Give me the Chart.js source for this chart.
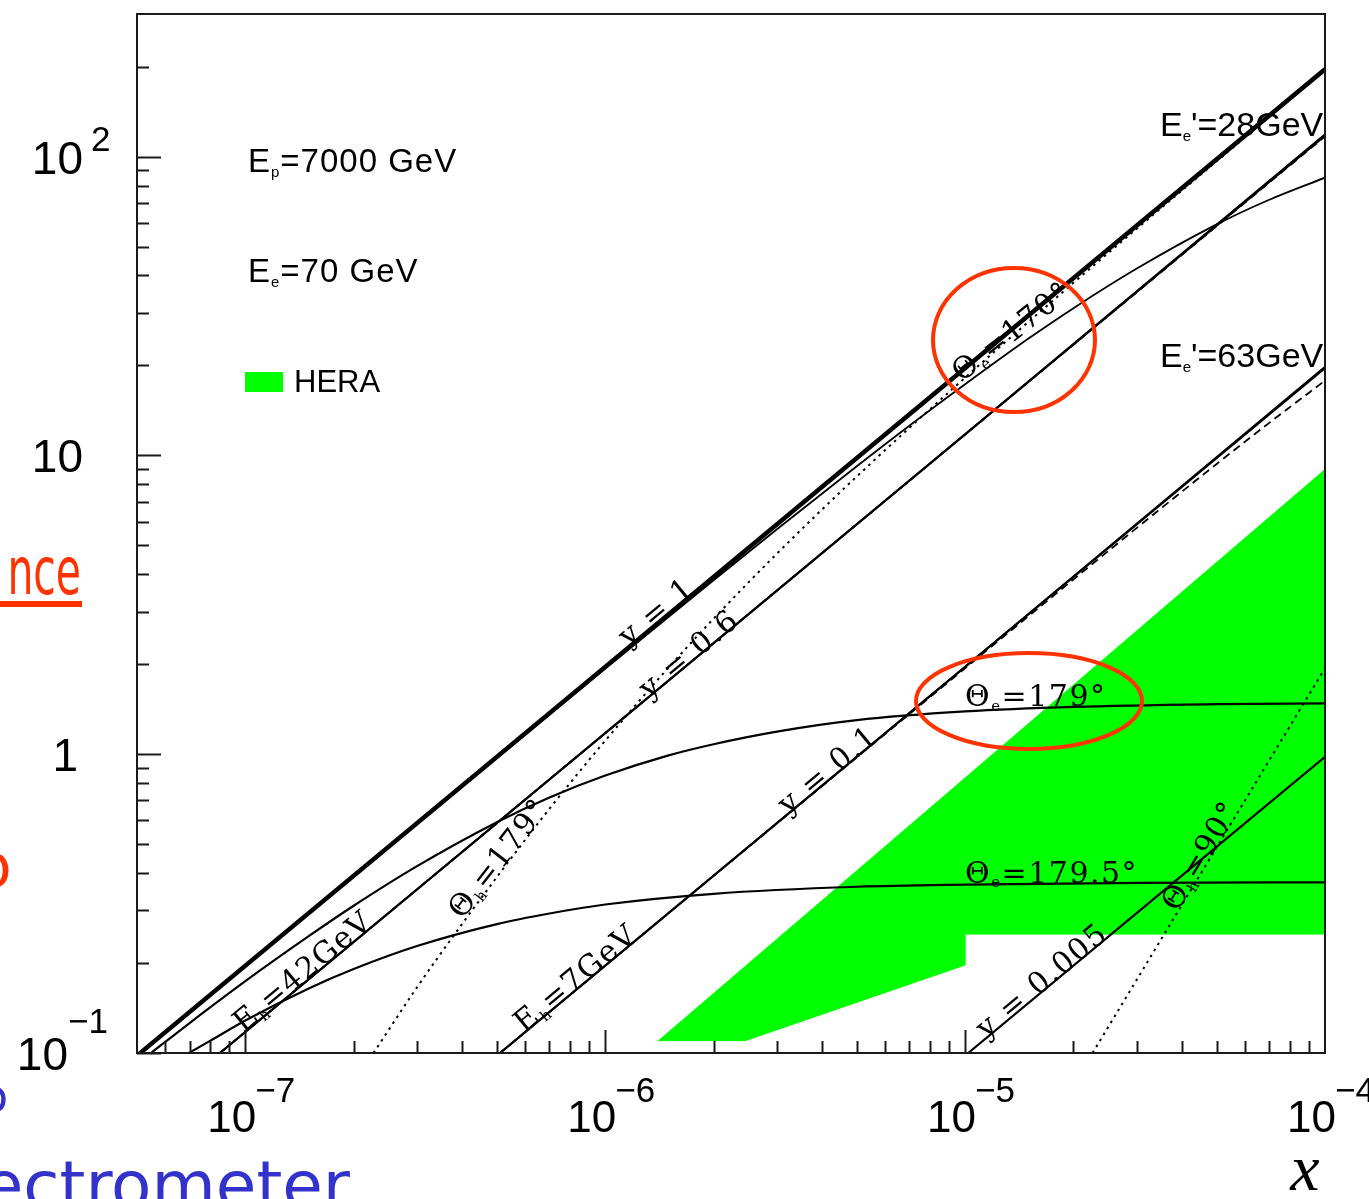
<!DOCTYPE html>
<html>
<head>
<meta charset="utf-8">
<title>x – Q² kinematic plane</title>
<script src="https://cdn.jsdelivr.net/npm/chart.js@4.4.1/dist/chart.umd.min.js"></script>
<style>
  html, body { margin: 0; padding: 0; background: #fff; overflow: hidden; }
  #wrap { position: relative; width: 1369px; height: 1199px; }
</style>
</head>
<body>
<div id="wrap"><canvas id="kine" width="1369" height="1199"></canvas></div>
<script>
// axis decades and their labels
const xDecades = [1e-7, 1e-6, 1e-5, 1e-4];
const xDecadeExp = ['\u22127', '\u22126', '\u22125', '\u22124'];
const yDecades = [0.1, 1, 10, 100];
const yDecadeBase = ['10', '1', '10', '10'];
const yDecadeExp = ['\u22121', '', '', '2'];

// lines of constant y
const y1X = [5e-8, 1e-4];
const y1Q2 = [0.098, 196];
const y06X = [8.5e-8, 1e-4];
const y06Q2 = [0.1, 117.6];
const y01X = [5.1e-7, 1e-4];
const y01Q2 = [0.1, 19.6];
const y0005X = [1.02e-5, 1e-4];
const y0005Q2 = [0.1, 0.98];

// scattered electron energy
const ee28X = [8.5e-8, 1e-5, 1e-4];
const ee28Q2 = [0.1, 11.77, 118.8];
const ee63X = [5.1e-7, 1e-5, 1e-4];
const ee63Q2 = [0.1, 1.962, 19.8];

// hadronic final state energy
const eh42X = [8.5e-8, 1e-5, 1e-4];
const eh42Q2 = [0.1, 11.75, 116.8];
const eh7X = [5.1e-7, 1e-6, 1e-5, 3e-5, 5e-5, 7e-5, 1e-4];
const eh7Q2 = [0.1, 0.196, 1.94, 5.72, 9.36, 12.85, 17.8];

// electron scattering angle
const te170X = [5e-8, 1e-6, 2e-6, 3e-6, 5e-6, 7e-6, 1e-5, 1.5e-5, 2e-5, 3e-5, 5e-5, 7e-5, 1e-4];
const te170Q2 = [0.098, 1.935, 3.82, 5.66, 9.2, 12.57, 17.3, 24.6, 31.1, 42.2, 59.3, 71.7, 85.0];
const te179X = [5.47e-8, 7e-8, 1e-7, 1.5e-7, 2e-7, 3e-7, 5e-7, 7e-7, 1e-6, 1.5e-6, 2e-6, 3e-6, 5e-6, 1e-5, 2e-5, 5e-5, 1e-4];
const te179Q2 = [0.1, 0.126, 0.174, 0.246, 0.311, 0.422, 0.592, 0.716, 0.848, 0.991, 1.08, 1.19, 1.30, 1.39, 1.44, 1.47, 1.48];
const te1795X = [6.97e-8, 8e-8, 1e-7, 1.5e-7, 2e-7, 3e-7, 5e-7, 7e-7, 1e-6, 2e-6, 5e-6, 1e-5, 3e-5, 1e-4];
const te1795Q2 = [0.1, 0.110, 0.1285, 0.1645, 0.191, 0.228, 0.270, 0.293, 0.314, 0.341, 0.360, 0.366, 0.371, 0.3725];

// hadron angle
const th179X = [2.27e-7, 3e-7, 4e-7, 5e-7, 7e-7, 1e-6, 1.5e-6, 2e-6, 3e-6, 5e-6, 1e-5, 2e-5, 5e-5, 1e-4];
const th179Q2 = [0.1, 0.166, 0.270, 0.388, 0.657, 1.11, 1.95, 2.84, 4.69, 8.5, 18.2, 37.8, 96.5, 194.5];
const th90X = [2.26e-5, 5e-5, 1e-4];
const th90Q2 = [0.1, 0.488, 1.94];

// HERA region outline
const heraX = [1.4e-6, 2.45e-6, 1e-5, 1e-5, 1e-4, 1e-4];
const heraQ2 = [0.11, 0.11, 0.197, 0.25, 0.25, 9.0];

const SERIF = '"DejaVu Serif", serif';
const SANS = '"Liberation Sans", Arial, sans-serif';
const HAND = '"Comic Sans MS", "DejaVu Sans", sans-serif';

// labels sitting on the curves (anchor given in x / Q2)
const curveLabels = [
    { parts: [['y = 1']], x: 1.44e-6, q2: 2.83, angle: -39.7, lift: 0 },
    { parts: [['y = 0.6']], x: 1.76e-6, q2: 2.07, angle: -39.7, lift: -2 },
    { parts: [['y = 0.1']], x: 4.3e-6, q2: 0.843, angle: -39.7, lift: -1 },
    { parts: [['y = 0.005']], x: 1.69e-5, q2: 0.166, angle: -39.7, lift: -1 },
    { parts: [['E'], ['h', 'sub'], ['=42GeV']], x: 1.5e-7, q2: 0.177, angle: -39.7, lift: 0 },
    { parts: [['E'], ['h', 'sub'], ['=7GeV']], x: 8.6e-7, q2: 0.168, angle: -39.7, lift: 0 },
    { parts: [['\u0398'], ['h', 'sub'], ['=179\u00b0']], x: 5.3e-7, q2: 0.428, angle: -52, lift: 0 },
    { parts: [['\u0398'], ['h', 'sub'], ['=90\u00b0']], x: 4.75e-5, q2: 0.44, angle: -59, lift: 0 },
    { parts: [['\u0398'], ['e', 'sub'], ['=170\u00b0']], x: 1.43e-5, q2: 23.6, angle: -38, lift: 6 },
    { parts: [['\u0398'], ['e', 'sub'], ['=179\u00b0']], x: 1e-5, q2: 1.45, angle: 0, lift: 0, align: 'left' },
    { parts: [['\u0398'], ['e', 'sub'], ['=179.5\u00b0']], x: 1e-5, q2: 0.372, angle: 0, lift: 0, align: 'left' }
];

function pts(xs, qs) {
    return xs.map((x, i) => ({ x: x, y: qs[i] }));
}

function curve(label, xs, qs, extra) {
    return Object.assign({
        label: label,
        data: pts(xs, qs),
        borderColor: '#000',
        borderWidth: 2.2,
        pointRadius: 0,
        fill: false,
        cubicInterpolationMode: 'monotone',
        order: 0
    }, extra || {});
}

// text with sub/superscript runs, optionally rotated
function richText(ctx, parts, x, y, o) {
    const small = Math.round(o.size * (o.subScale || 0.55));
    const fontFor = m => (o.style || '') + ' ' + (m === 'n' ? o.size : small) + 'px ' + o.family;
    ctx.save();
    ctx.translate(x, y);
    if (o.angle) ctx.rotate(o.angle * Math.PI / 180);
    if (o.hscale) ctx.scale(o.hscale, 1);
    if (o.spacing) ctx.letterSpacing = o.spacing + 'px';
    let total = 0;
    const widths = parts.map(p => {
        ctx.font = fontFor(p[1] || 'n');
        const w = ctx.measureText(p[0]).width;
        total += w;
        return w;
    });
    let cx = o.align === 'center' ? -total / 2 : (o.align === 'right' ? -total : 0);
    ctx.textAlign = 'left';
    ctx.textBaseline = 'alphabetic';
    ctx.fillStyle = o.color || '#000';
    parts.forEach((p, i) => {
        const m = p[1] || 'n';
        ctx.font = fontFor(m);
        let dy = 0;
        if (m === 'sub') dy = o.size * 0.16;
        if (m === 'sup') dy = -o.size * 0.5;
        ctx.fillText(p[0], cx, dy - (o.lift || 0));
        cx += widths[i];
    });
    ctx.restore();
}

const decorations = {
    id: 'decorations',
    afterDatasetsDraw(chart) {
        const ctx = chart.ctx;
        const sx = chart.scales.x;
        const sy = chart.scales.y;
        const a = chart.chartArea;

        // curve labels
        curveLabels.forEach(l => {
            richText(ctx, l.parts, sx.getPixelForValue(l.x), sy.getPixelForValue(l.q2), {
                size: 30, family: SERIF, angle: l.angle, lift: l.lift,
                align: l.align || 'center', spacing: 1.5, subScale: 0.5
            });
        });

        // beam energies and legend
        richText(ctx, [['E'], ['p', 'sub'], ['=7000 GeV']], 248, 172, { size: 33, family: SANS, spacing: 1, subScale: 0.45 });
        richText(ctx, [['E'], ['e', 'sub'], ['=70 GeV']], 248, 282, { size: 33, family: SANS, spacing: 1, subScale: 0.45 });
        ctx.fillStyle = '#00ff00';
        ctx.fillRect(245, 372, 38, 20);
        richText(ctx, [['HERA']], 294, 392, { size: 31, family: SANS });
        richText(ctx, [['E'], ['e', 'sub'], ["'=28GeV"]], 1160, 136, { size: 34, family: SANS, subScale: 0.45 });
        richText(ctx, [['E'], ['e', 'sub'], ["'=63GeV"]], 1160, 367, { size: 34, family: SANS, subScale: 0.45 });

        // frame
        ctx.save();
        ctx.strokeStyle = '#1a1a1a';
        ctx.lineWidth = 2;
        ctx.strokeRect(a.left, a.top, a.right - a.left, a.bottom - a.top);

        // x ticks, pointing up from the bottom edge
        ctx.beginPath();
        [1e-8, 1e-7, 1e-6, 1e-5].forEach(d => {
            for (let m = 1; m <= 9; m++) {
                const v = m * d;
                if (v <= sx.min || v > sx.max) continue;
                const px = Math.round(sx.getPixelForValue(v)) + 0.5;
                const len = m === 1 ? 23 : 12;
                ctx.moveTo(px, a.bottom);
                ctx.lineTo(px, a.bottom - len);
            }
        });
        // y ticks, pointing right from the left edge
        [0.1, 1, 10, 100].forEach(d => {
            for (let m = 1; m <= 9; m++) {
                const v = m * d;
                if (v <= sy.min && m > 1) continue;
                if (v >= sy.max) continue;
                const py = Math.round(sy.getPixelForValue(v)) + 0.5;
                const len = m === 1 ? 24 : 12;
                ctx.moveTo(a.left, py);
                ctx.lineTo(a.left + len, py);
            }
        });
        ctx.stroke();
        ctx.restore();

        // x decade labels
        xDecades.forEach((v, i) => {
            const px = sx.getPixelForValue(v);
            richText(ctx, [['10']], px - 38, 1132, { size: 44, family: SANS });
            richText(ctx, [[xDecadeExp[i]]], px + 10, 1102, { size: 35, family: SANS });
        });
        // y decade labels
        const yBaseRight = [68, 78, 83, 83];
        yDecades.forEach((v, i) => {
            const py = sy.getPixelForValue(v);
            richText(ctx, [[yDecadeBase[i]]], yBaseRight[i], py + 17, { size: 46, family: SANS, align: 'right' });
            if (yDecadeExp[i]) {
                const off = i === 0 ? -20 : -6;
                const left = i === 0 ? 68 : 91;
                richText(ctx, [[yDecadeExp[i]]], left, py + off, { size: 35, family: SANS });
            }
        });
        // axis title
        richText(ctx, [['x']], 1305, 1190, { size: 66, family: '"Liberation Serif", serif', style: 'italic', align: 'center' });

        // highlighted regions
        ctx.save();
        ctx.strokeStyle = 'rgb(255,51,0)';
        ctx.lineWidth = 4;
        ctx.beginPath();
        ctx.ellipse(1014, 340, 81, 72, 0, 0, Math.PI * 2);
        ctx.stroke();
        ctx.beginPath();
        ctx.ellipse(1029, 701, 113, 48, 0, 0, Math.PI * 2);
        ctx.stroke();
        ctx.restore();

        // slide text around the figure
        richText(ctx, [['nce']], 81, 594, { size: 66, family: HAND, color: 'rgb(255,51,0)', align: 'right', hscale: 0.62 });
        ctx.fillStyle = 'rgb(255,51,0)';
        ctx.fillRect(0, 601, 82, 6);
        richText(ctx, [['o']], -25, 887, { size: 60, family: HAND, color: 'rgb(255,51,0)' });
        richText(ctx, [['o']], -20, 1112, { size: 46, family: HAND, color: 'rgb(51,51,204)' });
        richText(ctx, [['ectrometer']], 350, 1208, { size: 66, family: HAND, color: 'rgb(51,51,204)', align: 'right' });
    }
};

new Chart(document.getElementById('kine'), {
    type: 'line',
    data: {
        datasets: [
            curve('y = 1', y1X, y1Q2, { borderWidth: 4.5 }),
            curve('y = 0.6', y06X, y06Q2),
            curve('y = 0.1', y01X, y01Q2),
            curve('y = 0.005', y0005X, y0005Q2),
            curve("Ee' = 28 GeV", ee28X, ee28Q2, { borderWidth: 1.8 }),
            curve("Ee' = 63 GeV", ee63X, ee63Q2, { borderWidth: 1.8 }),
            curve('Eh = 42 GeV', eh42X, eh42Q2, { borderWidth: 1.8, borderDash: [8, 5] }),
            curve('Eh = 7 GeV', eh7X, eh7Q2, { borderWidth: 1.8, borderDash: [8, 5] }),
            curve('theta_e = 170', te170X, te170Q2, { borderWidth: 1.8 }),
            curve('theta_e = 179', te179X, te179Q2),
            curve('theta_e = 179.5', te1795X, te1795Q2),
            curve('theta_h = 179', th179X, th179Q2, { borderWidth: 2, borderDash: [2.5, 4.5] }),
            curve('theta_h = 90', th90X, th90Q2, { borderWidth: 2, borderDash: [2.5, 4.5] }),
            {
                label: 'HERA',
                data: pts(heraX, heraQ2),
                borderColor: '#00ff00',
                borderWidth: 1,
                backgroundColor: '#00ff00',
                pointRadius: 0,
                tension: 0,
                fill: 'shape',
                order: 100
            }
        ]
    },
    options: {
        responsive: false,
        animation: false,
        events: [],
        layout: { padding: { left: 137, top: 14, right: 44, bottom: 146 } },
        scales: {
            x: { type: 'logarithmic', min: 5e-8, max: 1e-4, display: false },
            y: { type: 'logarithmic', min: 0.1, max: 300, display: false }
        },
        plugins: {
            legend: { display: false },
            tooltip: { enabled: false }
        }
    },
    plugins: [decorations]
});
</script>
</body>
</html>
